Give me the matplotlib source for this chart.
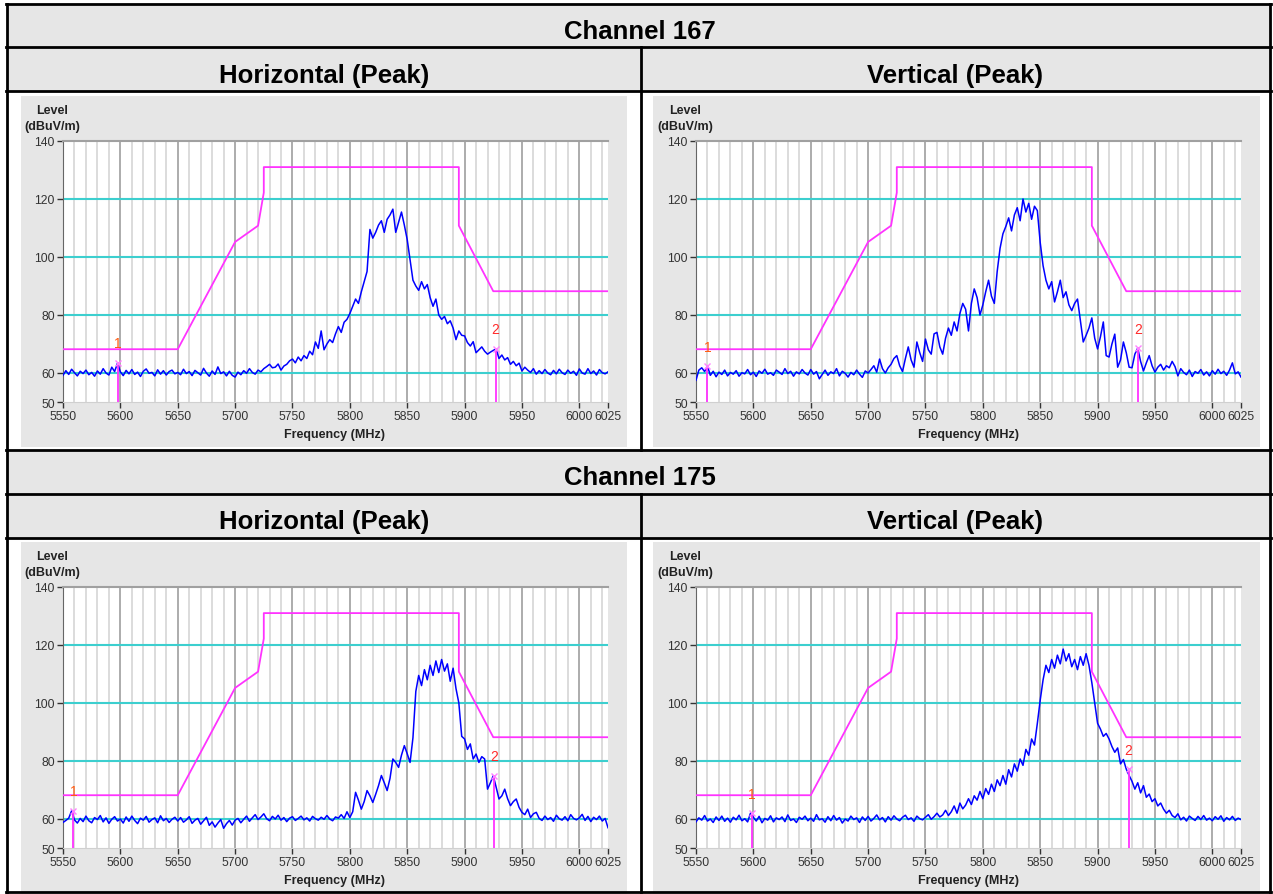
import numpy as np
import matplotlib
matplotlib.use('Agg')
import matplotlib.pyplot as plt
from matplotlib.patches import Rectangle

plt.rcParams['font.family'] = ['Liberation Sans', 'DejaVu Sans']

# ---- data (levels in dBuV/m, sweep 5550..6025 MHz) ----
channels = ['Channel 167', 'Channel 175']
polarities = ['Horizontal (Peak)', 'Vertical (Peak)']

h167 = [59.2, 60.8, 59.5, 61.3, 60.1, 59.0, 60.6, 59.8, 61.0, 59.4, 60.2, 58.9, 60.7, 59.6, 61.5, 60.0, 59.3, 62.0, 60.5, 63.4,
        60.4, 59.1, 60.9, 59.7, 61.2, 59.5, 60.3, 58.8, 60.6, 61.4, 59.9, 60.2, 59.0, 61.1, 59.6, 60.8, 59.3, 60.5, 61.0, 59.7,
        60.2, 59.4, 61.3, 59.8, 60.5, 59.1, 60.9, 60.1, 59.3, 61.6, 60.0, 58.9, 60.7, 59.5, 62.1, 59.8, 60.4, 59.0, 60.6, 59.2,
        58.6, 60.3, 59.4, 60.8, 59.9, 61.5, 60.2, 59.6, 61.0, 60.4, 61.5, 62.2, 63.0, 61.8, 62.0, 63.1, 61.0, 62.4, 63.0, 64.2,
        64.8, 63.5, 65.5, 64.2, 66.0, 65.0, 67.5, 66.3, 70.7, 68.5, 74.5, 68.0, 70.0, 71.5, 70.5, 73.5, 76.0, 74.0, 77.5, 78.5,
        80.5, 83.0, 85.5, 84.0, 88.0, 91.5, 95.0, 109.5, 106.5, 108.5, 111.0, 112.5, 108.5, 113.0, 114.5, 116.5, 108.5, 112.0, 115.5, 111.0,
        106.0, 99.0, 92.0, 90.0, 88.5, 91.5, 89.0, 90.5, 86.0, 83.0, 85.5, 80.0, 78.5, 79.5, 77.0, 78.0, 75.5, 71.5, 74.5, 73.0,
        72.8, 70.5, 69.3, 70.8, 67.0, 68.0, 69.0, 67.5, 66.5, 67.2, 67.8, 68.3, 65.0, 66.2, 64.5, 65.3, 63.0, 64.0, 62.5, 63.4,
        60.7, 62.0, 61.0, 60.2, 61.5, 59.6, 60.8, 59.8, 61.2, 60.0, 59.4, 60.9, 59.7, 61.3, 60.1, 59.5, 61.0, 59.9, 60.6, 59.2,
        61.4, 60.0, 59.6, 61.5, 59.8, 60.7, 59.3, 61.2, 60.1, 59.7, 60.4]

v167 = [57.5, 61.0, 61.8, 60.5, 62.4, 59.2, 60.6, 58.7, 60.3, 59.5, 61.0, 59.0, 60.2, 59.6, 60.8, 58.9, 60.1, 59.7, 61.2, 59.4,
        60.3, 58.8, 60.7, 59.9, 61.3, 59.6, 60.1, 59.2, 61.0, 60.3, 59.5, 61.5, 59.8, 60.6, 58.9, 60.4, 59.7, 61.2, 60.0, 59.3,
        61.2, 59.6, 60.5, 58.0, 59.5, 61.0, 59.2, 60.4, 59.8, 61.5, 59.0, 60.6, 59.9, 58.6, 60.2, 59.4, 61.0, 59.6, 58.5, 60.7,
        60.0, 61.2, 62.5, 60.3, 64.8, 61.5, 60.0, 61.8, 63.0, 65.0, 66.0, 62.5, 60.5, 65.0, 69.0, 64.5, 62.0, 70.7, 67.0, 64.0,
        71.7, 68.0, 66.5, 73.5, 74.0, 69.0, 66.5, 72.0, 75.5, 73.0, 77.6, 74.5, 80.5, 84.0, 82.0, 74.5, 84.0, 89.0, 86.0, 80.0,
        83.5, 88.0, 92.0, 86.5, 84.0, 95.0, 103.0, 108.0, 110.5, 113.5, 109.0, 114.5, 117.0, 112.5, 120.0, 115.5, 118.5, 113.0, 117.5, 116.0,
        105.0, 97.0, 92.0, 89.0, 91.5, 84.5, 88.0, 92.0, 86.0, 88.0, 83.5, 81.5, 84.0, 85.5, 78.0, 70.7, 73.0, 75.5, 79.0, 72.0,
        68.3, 72.5, 77.6, 66.0, 65.5, 70.0, 73.4, 62.0, 64.5, 70.7, 67.0, 62.0, 61.8, 66.5, 68.6, 64.0, 60.7, 63.5, 66.0, 62.5,
        60.3, 62.0, 63.0, 61.0, 62.5, 61.8, 64.0, 62.2, 59.0, 61.5, 60.2, 59.4, 61.0, 58.8, 60.5, 59.9, 61.2, 59.3, 60.4, 59.0,
        60.8, 59.6, 61.3, 59.8, 60.6, 59.2, 61.0, 63.5, 59.7, 60.4, 58.6]

h175 = [58.8, 59.5, 60.3, 62.8, 59.7, 58.6, 60.2, 59.1, 61.0, 59.4, 58.7, 60.5, 59.8, 61.2, 59.0, 60.4, 58.5, 59.9, 60.8, 59.3,
        60.0, 58.6, 60.7, 59.2, 61.0, 59.5, 58.4, 60.3, 59.6, 60.9, 58.9, 59.8, 60.4, 58.7, 61.1, 59.4, 60.2, 58.8, 59.9, 60.6,
        59.3, 60.5, 58.9, 59.7, 60.8, 58.5, 59.6, 60.2, 58.2, 59.4, 60.6, 57.8, 59.0, 57.2, 58.6, 59.8, 56.8, 58.4, 59.5, 57.9,
        59.6, 60.2, 58.7, 59.9, 61.0, 59.2, 60.4, 61.5, 59.8, 60.7, 61.8, 60.1, 59.4, 60.9, 60.0, 61.3, 59.6, 60.5, 59.1, 60.3,
        60.8, 59.5, 60.2, 61.0, 59.7, 60.4, 59.3, 60.9, 60.1, 59.6, 60.6, 59.9, 61.2, 60.0, 59.4, 60.7, 60.3, 61.5, 60.2, 62.5,
        60.5, 62.5, 69.2, 66.5, 63.4, 66.0, 69.8, 68.0, 65.7, 68.5, 71.5, 75.0, 72.5, 69.8, 74.0, 80.7, 79.5, 77.8, 82.0, 85.3,
        82.5, 79.5, 88.0, 104.0, 109.5, 106.0, 111.5, 108.0, 113.0, 109.5, 114.5, 110.5, 115.0, 111.0, 113.5, 107.5, 112.0, 105.0, 100.0, 88.5,
        87.6, 84.0, 85.9, 80.7, 82.4, 79.5, 81.5, 80.7, 70.3, 72.5, 74.9, 71.0, 66.9, 68.0, 70.3, 67.0, 64.6, 66.0, 66.9, 64.0,
        62.3, 61.5, 63.4, 60.5, 61.8, 62.3, 60.2, 59.5, 61.0, 59.8, 60.5, 59.2, 61.3, 60.1, 59.6, 60.8, 59.4, 61.5, 60.2, 59.7,
        60.4, 61.6, 59.5, 60.9, 59.1, 60.6, 59.8, 61.0, 59.3, 60.2, 57.0]

v175 = [59.0, 60.4, 59.6, 61.2, 59.3, 60.0, 58.8, 60.7, 59.5, 61.0, 59.2, 60.3, 58.9, 60.6, 59.7, 61.3, 59.4, 60.1, 59.0, 62.0,
        60.6, 59.3, 60.9, 58.7, 60.2, 59.6, 61.1, 59.0, 60.4, 59.8, 60.7, 59.1, 61.4, 59.5, 60.0, 58.8, 60.6, 59.9, 61.0, 59.4,
        60.3, 59.2, 61.5, 59.7, 60.1, 58.9, 60.8, 59.4, 61.2, 59.6, 60.5, 58.6, 60.0, 59.3, 61.0, 59.8, 60.4, 58.8, 60.7, 59.5,
        60.9, 59.3, 60.2, 61.4, 59.7, 60.5, 59.0, 60.8, 59.6, 61.1, 60.0, 59.4, 60.6, 61.3, 59.8, 60.4, 59.2, 61.0, 60.1, 59.7,
        60.6, 61.5, 59.9, 60.8, 62.0, 60.7, 61.4, 63.0, 61.2, 62.5, 64.5, 62.0, 65.5, 63.5, 64.8, 67.0, 65.0, 68.0, 66.5, 69.5,
        67.0, 70.5, 68.5, 72.0, 69.5, 73.5, 71.5, 75.0, 72.0, 77.0, 74.5, 79.0, 76.5, 80.7, 78.5, 84.0, 82.0, 87.6, 85.5, 93.0,
        101.0, 108.0, 113.0, 110.5, 115.0, 112.0, 116.5, 113.5, 118.6, 114.5, 117.0, 112.5, 115.0, 111.5, 116.0, 113.0, 117.0, 113.0, 107.0, 100.0,
        93.0, 91.0, 88.5, 89.5, 87.6, 85.0, 83.0, 84.5, 79.0, 80.5, 77.2, 75.0, 73.0, 70.3, 72.5, 69.0, 71.5, 67.5, 68.6, 66.0,
        67.0, 64.5, 65.5, 63.4, 62.0, 63.0, 61.2, 60.5, 61.8, 59.7, 60.6, 59.3, 61.0, 60.2, 59.5, 60.9, 59.8, 61.2, 59.6, 60.3,
        59.4, 60.8, 59.9, 61.1, 59.2, 60.5, 59.7, 60.9, 59.5, 60.3, 59.8]

# limit line
limit_freq = [5550, 5650, 5700, 5720, 5725, 5725, 5895, 5895, 5925, 6025]
limit_level = [68.2, 68.2, 105.2, 110.8, 122.2, 131.0, 131.0, 110.8, 88.2, 88.2]

# markers (freq, level)
mk_h167 = [(5598, 63.5), (5927, 68.3)]
mk_v167 = [(5560, 62.4), (5935, 68.6)]
mk_h175 = [(5559, 62.9), (5925.5, 74.9)]
mk_v175 = [(5599, 62.0), (5927, 77.2)]

y_ticks = [50, 60, 80, 100, 120, 140]
x_ticks = [5550, 5600, 5650, 5700, 5750, 5800, 5850, 5900, 5950, 6000, 6025]

W, H = 1273, 895
GRAY = '#e6e6e6'
MAG = '#ff33ff'

fig = plt.figure(figsize=(W / 100, H / 100), dpi=100)
bg = fig.add_axes([0, 0, 1, 1])
bg.set_xlim(0, W)
bg.set_ylim(H, 0)
bg.axis('off')

# header cells
for y0, y1 in [(5, 48), (48, 92), (451, 495), (495, 539)]:
    bg.add_patch(Rectangle((7, y0), 1263, y1 - y0, fc=GRAY, ec='none'))
# gray chart images
for gx0, gx1 in [(21, 627), (653, 1260)]:
    for gy0, gy1 in [(97, 448), (543, 895)]:
        bg.add_patch(Rectangle((gx0, gy0), gx1 - gx0, gy1 - gy0, fc=GRAY, ec='none'))
# table lines
for y in [5, 48, 92, 451, 495, 539, 893]:
    bg.plot([6, 1271], [y, y], color='black', lw=2)
for x in [7, 1270]:
    bg.plot([x, x], [5, 893], color='black', lw=2)
bg.plot([641, 641], [48, 451], color='black', lw=2)
bg.plot([641, 641], [495, 893], color='black', lw=2)

# header texts
for k, off in enumerate([0, 446]):
    bg.text(640, 32 + off, channels[k], ha='center', va='center', fontsize=18.5, weight='bold')
    bg.text(324, 76 + off, polarities[0], ha='center', va='center', fontsize=18.5, weight='bold')
    bg.text(955, 76 + off, polarities[1], ha='center', va='center', fontsize=18.5, weight='bold')


def panel(px, py, trace, markers):
    ax = fig.add_axes([px / W, 1 - (py + 261) / H, 545 / W, 261 / H])
    freq = np.linspace(5550, 6025, len(trace))
    ax.set_xlim(5550, 6025)
    ax.set_ylim(50, 140)
    for f in range(5560, 6025, 10):
        ax.axvline(f, color='#acacac' if f % 50 == 0 else '#dcdcdc', lw=1.4, zorder=1)
    for lv in [60, 80, 100, 120]:
        ax.axhline(lv, color='#3ccfcf', lw=1.5, zorder=2)
    ax.plot(limit_freq, limit_level, color=MAG, lw=1.3, zorder=3)
    ax.plot(freq, trace, color='#0000ff', lw=1.1, zorder=4)
    colors = ['#ff5a10', '#ff2a2a']
    for i, (mf, ml) in enumerate(markers):
        ax.plot([mf, mf], [50, ml], color=MAG, lw=1.3, zorder=5)
        ax.plot(mf, ml, marker='x', color='#ff80ff', ms=4, mew=1, zorder=6)
        ax.annotate(str(i + 1), (mf, ml), xytext=(0, 14), textcoords='offset points',
                    ha='center', va='center', fontsize=10, color=colors[i], zorder=7)
    ax.set_yticks(y_ticks)
    ax.set_xticks(x_ticks)
    ax.set_xticklabels([str(t) for t in x_ticks])
    ax.tick_params(direction='out', length=4, width=1, colors='#333333', labelsize=8.7, pad=2)
    ax.spines['right'].set_visible(False)
    ax.spines['bottom'].set_color('#d0d0d0')
    ax.spines['top'].set_color('#a0a0a0')
    ax.spines['top'].set_linewidth(1.5)
    ax.spines['left'].set_color('#666666')
    ax.set_facecolor('white')
    # axis titles drawn in page coordinates
    bg.text(px - 11, py - 31, 'Level', ha='center', va='center', fontsize=9, weight='bold', color='#222222')
    bg.text(px - 11, py - 15, '(dBuV/m)', ha='center', va='center', fontsize=9, weight='bold', color='#222222')
    bg.text(px + 272, py + 293, 'Frequency (MHz)', ha='center', va='center', fontsize=9, weight='bold', color='#222222')
    return ax


panel(63, 142, h167, mk_h167)
panel(696, 142, v167, mk_v167)
panel(63, 588, h175, mk_h175)
panel(696, 588, v175, mk_v175)

plt.savefig('out.png', dpi=100)
